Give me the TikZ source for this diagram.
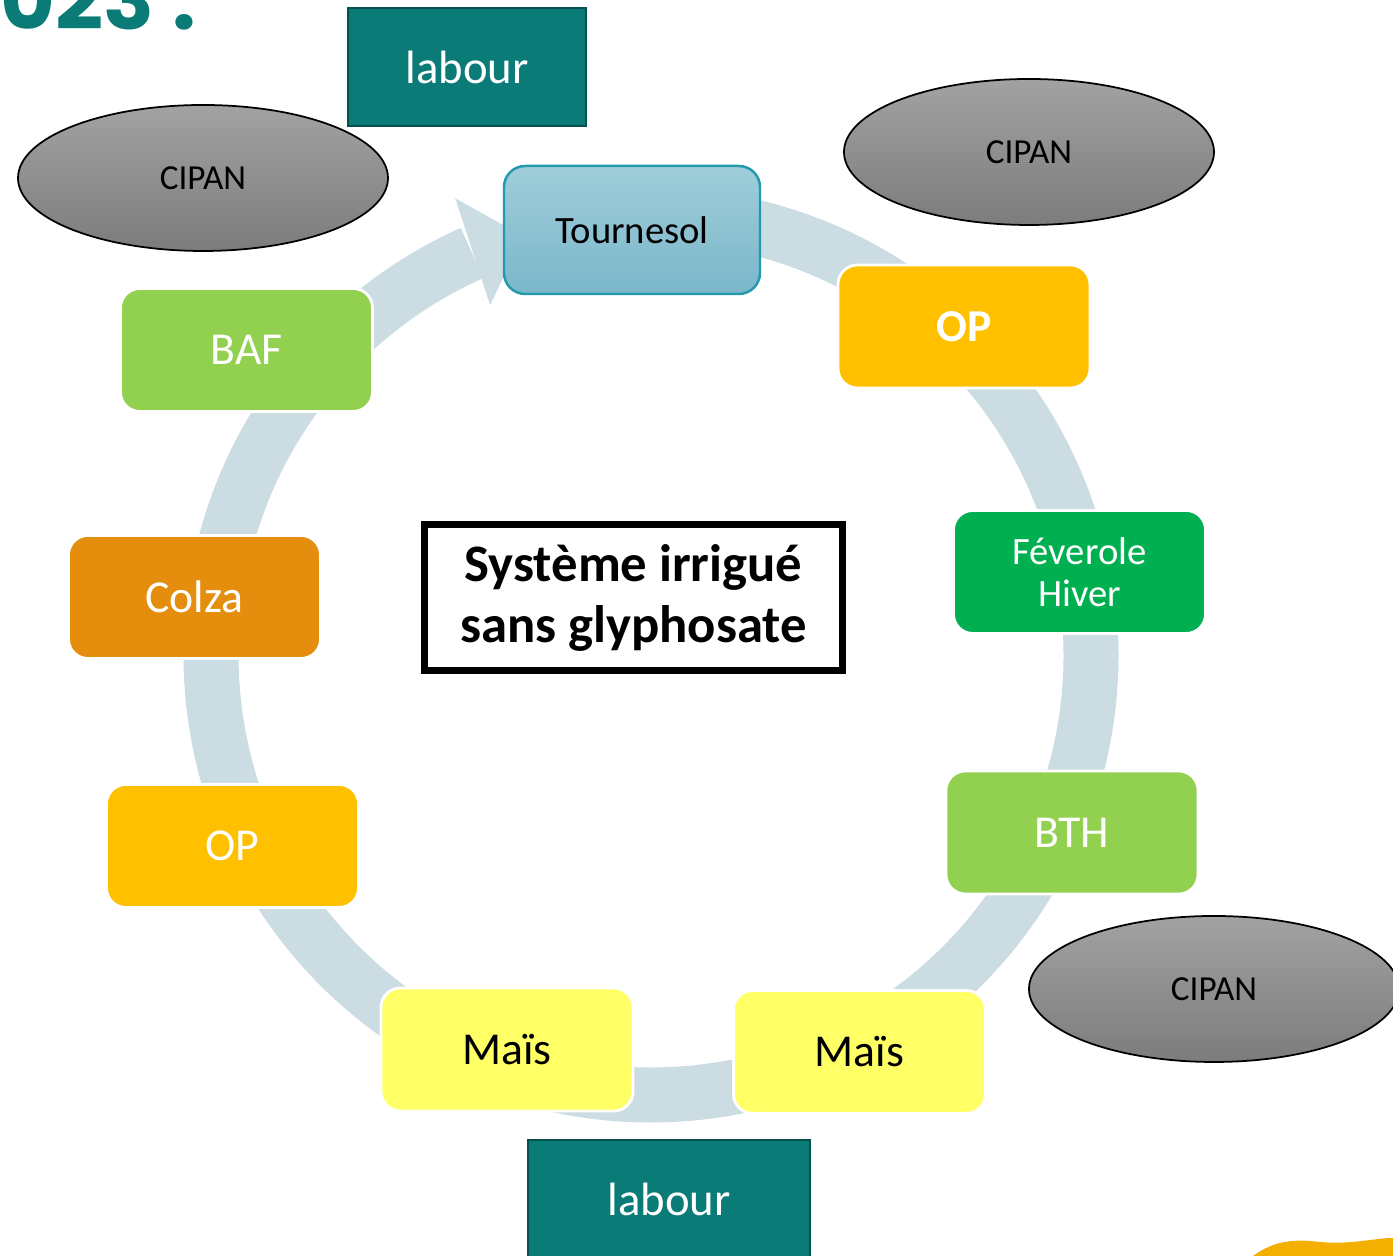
\documentclass[tikz,border=0pt]{standalone}
\usepackage{fontspec}
\setmainfont{Carlito}
\newfontfamily\yearfont{Poppins}
\usetikzlibrary{calc,shapes.geometric}

\begin{document}
\begin{tikzpicture}[
  crop/.style={rectangle,rounded corners=5.5pt,fill=#1,draw=white,line width=0.8pt,
               minimum width=25.2mm,minimum height=12.3mm,align=center,text=white,
               font=\fontsize{13}{15}\selectfont},
  cipan/.style={ellipse,draw=black,line width=0.5pt,top color=cgreytop,bottom color=cgreybot,
                minimum width=37mm,minimum height=14.6mm,font=\fontsize{10}{12}\selectfont},
  work/.style={rectangle,fill=cteal,draw=cteal!65!black,line width=0.8pt,text=white,
               minimum height=11.8mm,font=\fontsize{13.3}{16}\selectfont},
  ring/.style={line width=5.5mm,draw=cring},
]
  \definecolor{cteal}{HTML}{0B7B78}
  \definecolor{cring}{HTML}{CBDCE3}
  \definecolor{cgreytop}{HTML}{A2A2A2}
  \definecolor{cgreybot}{HTML}{7C7C7C}
  \definecolor{ctourtop}{HTML}{9FCDDA}
  \definecolor{ctourbot}{HTML}{7BB7CA}
  \definecolor{ctourline}{HTML}{2399AD}
  \definecolor{cop}{HTML}{FFC000}
  \definecolor{cgreen}{HTML}{92D050}
  \definecolor{cfev}{HTML}{00B050}
  \definecolor{ccolza}{HTML}{E58E0E}
  \definecolor{cmais}{HTML}{FFFF66}
  \definecolor{cgold}{HTML}{F4B000}

  \useasboundingbox (0,0) rectangle (13.93,12.56);
  \clip (0,0) rectangle (13.93,12.56);

  % year heading, cut by the page edge
  \node[anchor=base east,inner sep=0pt,text=cteal,font=\yearfont\bfseries\fontsize{24}{28}\selectfont]
    (year) at (1.97,12.265) {2023 :};

  % cycle arrow behind the crops
  \coordinate (ctr) at (6.51,6.01);
  \draw[ring] ($(ctr)+(95:4.40)$) arc[start angle=95,end angle=-246,radius=4.40];
  \fill[cring] ($(ctr)+(114.7:3.85)$) -- ($(ctr)+(113.2:4.97)$) -- ($(ctr)+(107:4.38)$) -- cycle;

  % crops
  \node[rectangle,rounded corners=6pt,top color=ctourtop,bottom color=ctourbot,
        draw=ctourline,line width=0.7pt,minimum width=25.6mm,minimum height=12.8mm,
        font=\fontsize{11}{13}\selectfont] (tournesol) at (6.32,10.26) {Tournesol};
  \node[crop=cop,font=\bfseries\fontsize{13}{15}\selectfont] (opR) at (9.64,9.295) {OP};
  \node[crop=cfev,font=\fontsize{11}{12}\selectfont] (fev) at (10.795,6.84) {Féverole\\Hiver};
  \node[crop=cgreen] (bth) at (10.72,4.235) {BTH};
  \node[crop=cmais,text=black] (maisR) at (8.595,2.04) {Maïs};
  \node[crop=cmais,text=black] (maisL) at (5.07,2.065) {Maïs};
  \node[crop=cop] (opL) at (2.325,4.10) {OP};
  \node[crop=ccolza] (colza) at (1.945,6.59) {Colza};
  \node[crop=cgreen] (baf) at (2.465,9.06) {BAF};

  % cover crops and tillage
  \node[cipan] (cipanL) at (2.03,10.78) {CIPAN};
  \node[cipan] (cipanR) at (10.29,11.04) {CIPAN};
  \node[cipan] (cipanB) at (12.14,2.67) {CIPAN};
  \node[work,minimum width=23.8mm] (labourH) at (4.67,11.89) {labour};
  \node[work,minimum width=28.2mm] (labourB) at (6.69,0.57) {labour};

  % system name
  \node[draw=black,line width=2pt,minimum width=41.8mm,minimum height=14.6mm,align=center,
        font=\bfseries\fontsize{15}{17.6}\selectfont] (systeme) at (6.335,6.58)
    {Système irrigué\\sans glyphosate};

  % corner decoration
  \fill[cgold] (12.53,0) .. controls (12.75,0.16) and (12.95,0.17) .. (13.20,0.14)
    .. controls (13.50,0.11) and (13.75,0.18) .. (13.93,0.18) -- (13.93,0) -- cycle;
\end{tikzpicture}
\end{document}
